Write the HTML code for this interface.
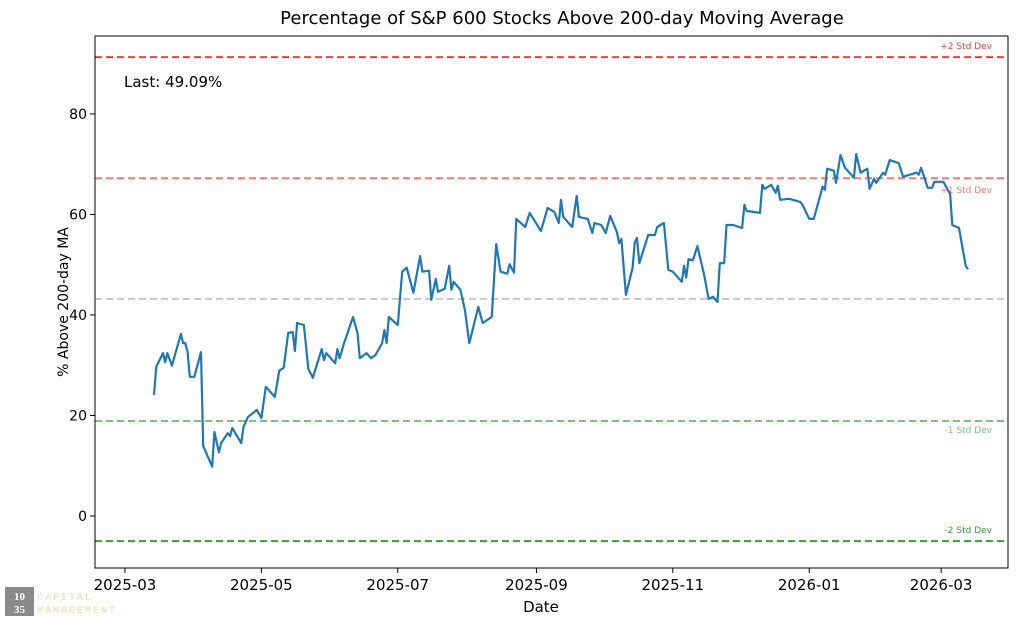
<!DOCTYPE html>
<html><head><meta charset="utf-8"><style>
html,body{margin:0;padding:0;background:#fff;}
svg{display:block;font-family:"DejaVu Sans","Liberation Sans",sans-serif;}
</style></head><body>
<svg id="chart" width="1020" height="620" viewBox="0 0 1020 620">
<rect width="1020" height="620" fill="#fff"/>
<text x="562" y="24" font-size="18" text-anchor="middle" fill="#000">Percentage of S&amp;P 600 Stocks Above 200-day Moving Average</text>
<g id="plot"></g>
<text x="541" y="612" font-size="15" text-anchor="middle">Date</text>
<text transform="translate(68,302) rotate(-90)" font-size="14" text-anchor="middle">% Above 200-day MA</text>
<text x="124" y="87" font-size="15">Last: 49.09%</text>
<g>
<rect x="5" y="587" width="29" height="29" fill="#8a8a8a"/>
<text x="19.5" y="600" font-size="11" fill="#fff" text-anchor="middle" font-family="Liberation Serif,serif" font-weight="bold">10</text>
<text x="19.5" y="613" font-size="11" fill="#fff" text-anchor="middle" font-family="Liberation Serif,serif" font-weight="bold">35</text>
<text x="37" y="600" font-size="10" fill="#ecdca6" letter-spacing="2" font-family="Liberation Mono,monospace">CAPITAL</text>
<text x="37" y="613" font-size="10" fill="#ecdca6" letter-spacing="2" font-family="Liberation Mono,monospace">MANAGEMENT</text>
</g>
</svg>
<script>
const dates=["2025-03-14","2025-03-15","2025-03-18","2025-03-19","2025-03-20","2025-03-22","2025-03-26","2025-03-27","2025-03-28","2025-03-29","2025-03-30","2025-04-01","2025-04-04","2025-04-05","2025-04-09","2025-04-10","2025-04-12","2025-04-13","2025-04-16","2025-04-17","2025-04-18","2025-04-22","2025-04-23","2025-04-25","2025-04-29","2025-05-01","2025-05-03","2025-05-07","2025-05-09","2025-05-11","2025-05-13","2025-05-15","2025-05-16","2025-05-17","2025-05-20","2025-05-22","2025-05-24","2025-05-28","2025-05-29","2025-05-30","2025-06-03","2025-06-04","2025-06-05","2025-06-07","2025-06-11","2025-06-13","2025-06-14","2025-06-17","2025-06-19","2025-06-21","2025-06-24","2025-06-25","2025-06-26","2025-06-27","2025-07-01","2025-07-03","2025-07-05","2025-07-08","2025-07-11","2025-07-12","2025-07-15","2025-07-16","2025-07-18","2025-07-19","2025-07-22","2025-07-24","2025-07-25","2025-07-26","2025-07-29","2025-07-31","2025-08-02","2025-08-06","2025-08-08","2025-08-12","2025-08-14","2025-08-16","2025-08-19","2025-08-20","2025-08-22","2025-08-23","2025-08-27","2025-08-29","2025-09-03","2025-09-06","2025-09-09","2025-09-11","2025-09-12","2025-09-13","2025-09-17","2025-09-19","2025-09-20","2025-09-24","2025-09-26","2025-09-27","2025-09-30","2025-10-02","2025-10-04","2025-10-07","2025-10-08","2025-10-09","2025-10-11","2025-10-14","2025-10-15","2025-10-16","2025-10-17","2025-10-21","2025-10-24","2025-10-25","2025-10-28","2025-10-30","2025-11-01","2025-11-05","2025-11-06","2025-11-07","2025-11-08","2025-11-10","2025-11-12","2025-11-15","2025-11-17","2025-11-19","2025-11-21","2025-11-22","2025-11-24","2025-11-25","2025-11-28","2025-12-02","2025-12-03","2025-12-04","2025-12-10","2025-12-11","2025-12-12","2025-12-15","2025-12-17","2025-12-18","2025-12-19","2025-12-23","2025-12-28","2025-12-29","2026-01-01","2026-01-03","2026-01-05","2026-01-07","2026-01-08","2026-01-09","2026-01-12","2026-01-13","2026-01-15","2026-01-17","2026-01-21","2026-01-22","2026-01-24","2026-01-27","2026-01-28","2026-01-30","2026-01-31","2026-02-03","2026-02-04","2026-02-06","2026-02-10","2026-02-12","2026-02-18","2026-02-19","2026-02-20","2026-02-23","2026-02-25","2026-02-26","2026-03-02","2026-03-04","2026-03-05","2026-03-06","2026-03-09","2026-03-12","2026-03-13"];
const values=[24.1,29.7,32.4,30.6,32.4,29.9,36.2,34.4,34.4,32.6,27.7,27.7,32.6,13.9,9.8,16.7,12.7,14.5,16.5,15.9,17.5,14.5,17.7,19.7,21.1,19.5,25.7,23.7,28.9,29.5,36.4,36.6,32.8,38.4,38.0,29.3,27.5,33.2,31.0,32.4,30.4,33.2,31.4,34.4,39.6,36.4,31.4,32.4,31.4,32.0,34.4,37.0,34.4,39.6,38.0,48.6,49.4,44.4,51.7,48.6,48.8,43.0,47.2,44.6,45.2,49.8,45.0,46.6,45.0,41.0,34.4,41.6,38.4,39.6,54.1,48.6,48.2,50.1,48.4,59.1,57.5,60.3,56.7,61.3,60.5,58.3,62.9,59.5,57.5,63.7,59.5,59.1,56.3,58.3,57.9,56.3,59.7,56.5,54.3,55.1,44.0,49.4,54.5,55.3,50.3,55.9,55.9,57.5,58.3,49.0,48.6,46.6,49.8,47.4,51.1,50.9,53.7,48.0,43.2,43.6,42.6,50.3,50.3,57.9,57.9,57.3,61.9,60.7,60.3,65.9,65.1,65.9,64.3,65.7,62.9,63.1,62.5,61.9,59.1,59.1,62.3,65.5,64.9,69.1,68.7,66.3,71.8,69.3,67.3,72.0,68.3,69.1,65.1,67.1,66.3,68.3,67.9,70.8,70.2,67.5,68.3,67.9,69.3,65.3,65.3,66.5,66.5,64.9,64.1,57.9,57.3,49.8,49.09];
const yTicks=[0,20,40,60,80];
const xTickDates=["2025-03-01","2025-05-01","2025-07-01","2025-09-01","2025-11-01","2026-01-01","2026-03-01"];
const bandLabels=["+2 Std Dev","+1 Std Dev","Mean","-1 Std Dev","-2 Std Dev"];
const bandValues=[91.3,67.2,43.2,18.9,-5.0];
const bandColors=["#e8433e","#ee7b77","#c8c8c8","#7fbf7f","#3a9c3a"];

const L=95,R=1008,T=36,B=568;
const t0=Date.parse("2025-03-01");
const day=86400000;
const xMin=-13.4,xMax=394.9,yMin=-10.35,yMax=95.5;
function xs(d){const o=(Date.parse(d)-t0)/day;return L+(o-xMin)/(xMax-xMin)*(R-L);}
function ys(v){return B-(v-yMin)/(yMax-yMin)*(B-T);}
const NS="http://www.w3.org/2000/svg";
const g=document.getElementById('plot');
function mk(tag,attrs,parent){const e=document.createElementNS(NS,tag);for(const k in attrs)e.setAttribute(k,attrs[k]);(parent||g).appendChild(e);return e;}

bandValues.forEach((v,i)=>{
  const ln=mk('line',{x1:L,x2:R,y1:ys(v),y2:ys(v),stroke:bandColors[i],'stroke-width':2,'stroke-dasharray':'7,4'});
  
  
  if(i!==2){
    const off=(i===0||i===4)?-8:(i===1?15:12);
    const t=mk('text',{x:992,y:ys(v)+off,'font-size':9,'text-anchor':'end',fill:bandColors[i]});
    t.textContent=bandLabels[i];
    
    
  }
});

const pts=dates.map((d,i)=>xs(d).toFixed(1)+','+ys(values[i]).toFixed(1)).join(' ');
const pl=mk('polyline',{points:pts,fill:'none',stroke:'#1f77b4','stroke-width':2.2,'stroke-linejoin':'round'});



const fr=mk('rect',{x:L,y:T,width:R-L,height:B-T,fill:'none',stroke:'#000','stroke-width':1});



yTicks.forEach(v=>{
  const y=ys(v);
  mk('line',{x1:L-5,x2:L,y1:y,y2:y,stroke:'#000'});
  const t=mk('text',{x:L-8,y:y+5,'font-size':14,'text-anchor':'end'});
  t.textContent=v;
  
  
});
xTickDates.forEach(d=>{
  const x=xs(d);
  mk('line',{x1:x,x2:x,y1:B,y2:B+5,stroke:'#000'});
  const t=mk('text',{x:x,y:B+22,'font-size':15,'text-anchor':'middle'});
  t.textContent=d.slice(0,7);
  
  
});
</script>
</body></html>
